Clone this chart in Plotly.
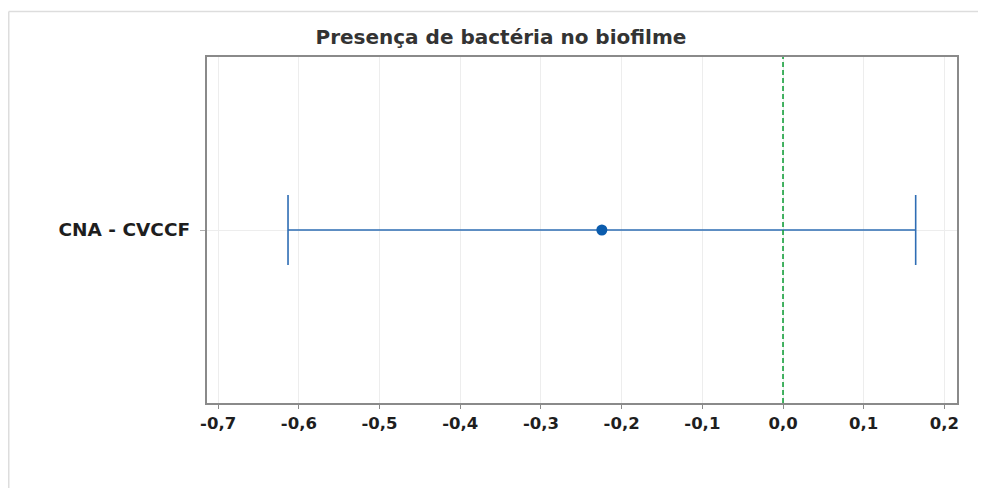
import plotly.graph_objects as go

categories = ["CNA - CVCCF"]
estimates = [-0.2245]
ci_halfwidth = [0.3889]
x_tickvals = [-0.7, -0.6, -0.5, -0.4, -0.3, -0.2, -0.1, 0.0, 0.1, 0.2]
x_ticktext = ["-0,7", "-0,6", "-0,5", "-0,4", "-0,3", "-0,2", "-0,1", "0,0", "0,1", "0,2"]
title_text = "Presença de bactéria no biofilme"

W, H = 978, 480
L, R, T, B = 199, 29, 49, 85
pw, ph = W - L - R, H - T - B

fig = go.Figure()
fig.add_trace(go.Scatter(
    x=estimates, y=categories, mode="markers",
    marker=dict(color="#0b5cad", size=11, symbol="circle"),
    error_x=dict(type="data", array=ci_halfwidth, visible=True,
                 color="#2e6db4", thickness=1.6, width=35),
    showlegend=False, hoverinfo="x+y",
))

# reference line at zero
fig.add_shape(type="line", xref="x", yref="paper", x0=0, x1=0, y0=0, y1=1,
              line=dict(color="#16a03c", width=1.6, dash="5px,3px"))
# light outer frame (left and top)
fx = (0.75 - L) / pw
fy = 1 + (T - 3.5) / ph
fig.add_shape(type="line", xref="paper", yref="paper", x0=fx, x1=1.1, y0=fy, y1=fy,
              line=dict(color="#dddddd", width=1.5))
fig.add_shape(type="line", xref="paper", yref="paper", x0=fx, x1=fx, y0=fy, y1=-0.4,
              line=dict(color="#dddddd", width=1.5))

fig.update_layout(
    width=W, height=H,
    margin=dict(l=L, r=R, t=T, b=B),
    paper_bgcolor="white", plot_bgcolor="white",
    font=dict(family="DejaVu Sans", color="#222222"),
    title=dict(text=title_text, x=0.504, xanchor="center", xref="container",
               y=0.9396, yanchor="middle", yref="container",
               font=dict(size=20, color="#333333", family="DejaVu Sans", weight="bold")),
    xaxis=dict(range=[-0.7138, 0.2156], tickvals=x_tickvals, ticktext=x_ticktext,
               showgrid=True, gridcolor="#ededed", gridwidth=1,
               showline=True, linecolor="#8a8a8a", linewidth=1.5, mirror=True,
               ticks="outside", ticklen=4, tickcolor="#8a8a8a",
               tickfont=dict(size=16.5, color="#1e1e1e", family="DejaVu Sans", weight="bold"),
               zeroline=False),
    yaxis=dict(range=[-1, 1], showgrid=True, gridcolor="#ededed", gridwidth=1,
               showline=True, linecolor="#8a8a8a", linewidth=1.5, mirror=True,
               ticks="outside", ticklen=5, tickcolor="#b0b0b0",
               tickfont=dict(size=18.5, color="#1e1e1e", family="DejaVu Sans", weight="bold"),
               zeroline=False, ticksuffix=" "),
)

fig.write_html("out.html")
